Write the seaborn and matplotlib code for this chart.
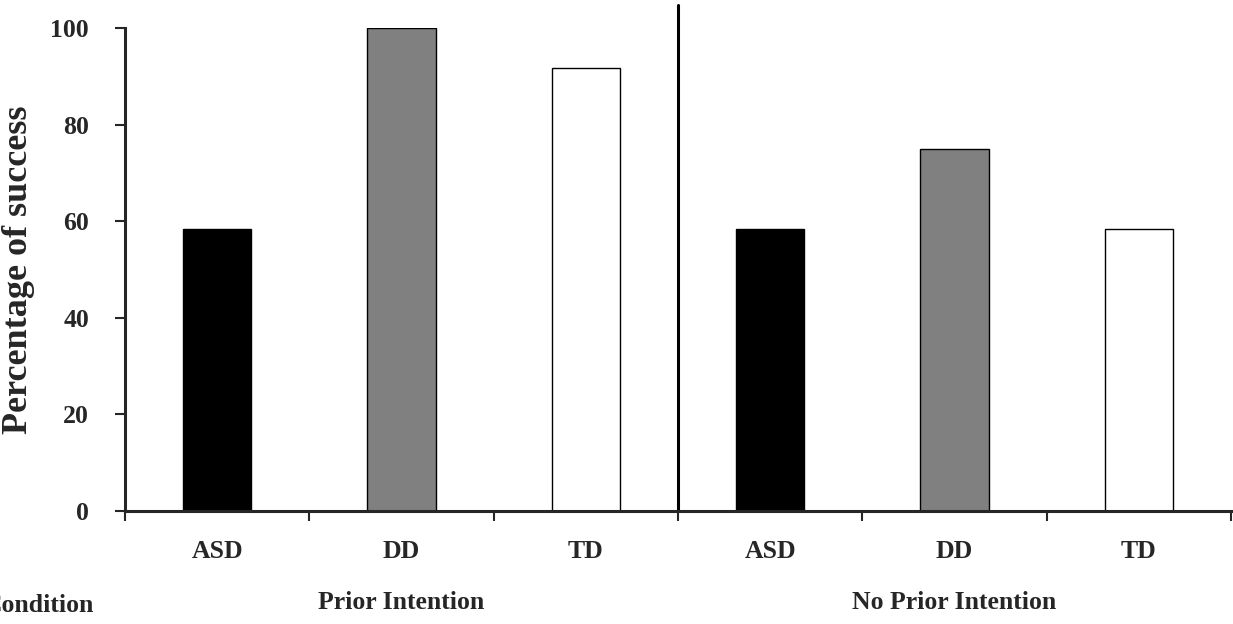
import numpy as np
import pandas as pd
import matplotlib
matplotlib.use('Agg')
import matplotlib.pyplot as plt
import seaborn as sns

# values
conditions = ['Prior Intention', 'No Prior Intention']
groups = ['ASD', 'DD', 'TD']
prior = [58.3, 100.0, 91.7]
no_prior = [58.3, 75.0, 58.3]
bar_colors = ['black', '#808080', 'white']

df = pd.DataFrame({
    'Condition': np.repeat(conditions, 3),
    'Group': groups * 2,
    'Percent': prior + no_prior,
})
df['slot'] = df['Condition'] + ' ' + df['Group']

sns.set_style('white')
plt.rcParams['font.family'] = ['Liberation Serif', 'DejaVu Serif']
plt.rcParams['font.weight'] = 'bold'
fs = 18.5

fig = plt.figure(figsize=(12.33, 6.24), dpi=100)
ax = fig.add_axes([0.1014, 0.181, 0.897, 0.774])

sns.barplot(data=df, x='slot', y='Percent', hue='Group', palette=bar_colors,
            width=0.37, dodge=False, edgecolor='black', linewidth=1,
            legend=False, ax=ax)

ax.set_xlim(-0.5, 5.5)
ax.set_ylim(0, 100)
ax.set_yticks([0, 20, 40, 60, 80, 100])
ax.tick_params(axis='y', direction='out', length=7, width=1.5, pad=19,
               labelsize=fs, left=True)

# group labels at bar centres, tick marks at the category boundaries
ax.set_xticks(range(6))
ax.set_xticklabels(groups * 2, fontsize=fs, fontweight='bold')
ax.tick_params(axis='x', which='major', length=0, pad=21)
ax.set_xticks(np.arange(-0.5, 6, 1), minor=True)
ax.tick_params(axis='x', which='minor', direction='out', length=7, width=1.5,
               bottom=True)
for lab in ax.get_yticklabels():
    lab.set_fontweight('bold')

sns.despine(ax=ax)
for s in ['left', 'bottom']:
    ax.spines[s].set_linewidth(2.2)
ax.set_xlabel('')
ax.set_ylabel('Percentage of success', fontsize=26, fontweight='bold')
ax.yaxis.set_label_coords(-0.081, 0.5)

# divider between the two conditions, rising a little above the axes
ax.plot([2.5, 2.5], [0, 104.7], color='black', lw=2.2, clip_on=False)

# condition labels under the groups
ax.text(1, -19, conditions[0], ha='center', va='center', fontsize=fs,
        fontweight='bold', clip_on=False)
ax.text(4, -19, conditions[1], ha='center', va='center', fontsize=fs,
        fontweight='bold', clip_on=False)
fig.text(94 / 1233, 1 - 605 / 624, 'Condition', ha='right', va='center',
         fontsize=fs, fontweight='bold')

fig.savefig('out.png', dpi=100)
